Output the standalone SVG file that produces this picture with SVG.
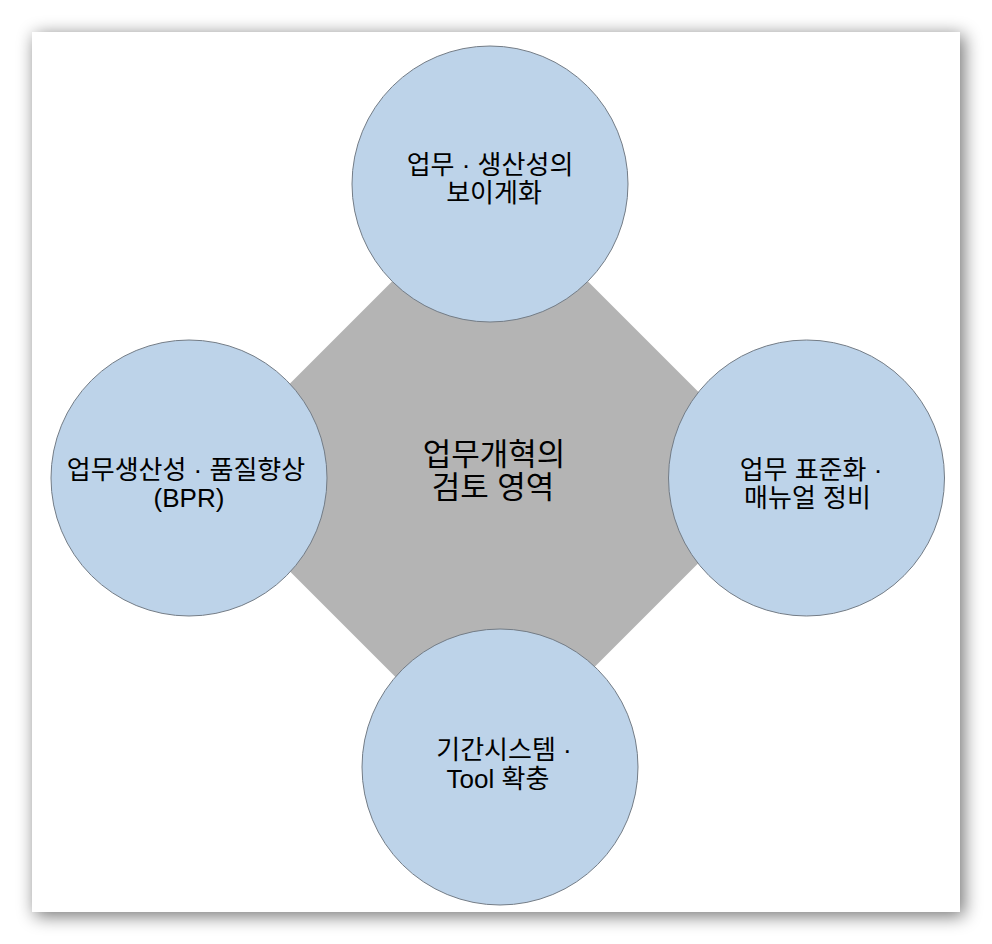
<svg xmlns="http://www.w3.org/2000/svg" width="992" height="944" viewBox="0 0 992 944">
  <defs>
    <filter id="pageShadow" x="-10%" y="-10%" width="120%" height="120%">
      <feGaussianBlur stdDeviation="9"/>
    </filter>
  </defs>
  <style>
    .circle { fill: #BDD3E9; stroke: #737C86; stroke-width: 1; }
    .lbl { font-family: "Liberation Sans", "Noto Sans CJK KR", sans-serif; font-size: 26px; fill: #000; text-anchor: middle; }
    .center { font-size: 31px; }
  </style>
  <rect width="992" height="944" fill="#ffffff"/>
  <g id="page">
    <rect x="35" y="35" width="929" height="881" fill="#000" opacity="0.55" filter="url(#pageShadow)"/>
    <rect x="32" y="32" width="928" height="880" fill="#ffffff"/>
  </g>
  <g id="hub">
    <polygon points="490,183.5 784,477.5 490,771.5 196,477.5" fill="#B4B4B4"/>
    <text class="lbl center" x="494" y="465">업무개혁의</text>
    <text class="lbl center" x="493" y="498">검토 영역</text>
  </g>
  <g id="node-top">
    <circle class="circle" cx="490" cy="184" r="138"/>
    <text class="lbl" x="490" y="174">업무 · 생산성의</text>
    <text class="lbl" x="494" y="202">보이게화</text>
  </g>
  <g id="node-left">
    <circle class="circle" cx="189" cy="478" r="138"/>
    <text class="lbl" x="186" y="479">업무생산성 · 품질향상</text>
    <text class="lbl" x="189" y="507">(BPR)</text>
  </g>
  <g id="node-right">
    <circle class="circle" cx="806.5" cy="478" r="138"/>
    <text class="lbl" x="811" y="479">업무 표준화 ·</text>
    <text class="lbl" x="807.5" y="507">매뉴얼 정비</text>
  </g>
  <g id="node-bottom">
    <circle class="circle" cx="500" cy="767" r="138"/>
    <text class="lbl" x="504" y="759">기간시스템 ·</text>
    <text class="lbl" x="498" y="788">Tool 확충</text>
  </g>
</svg>
